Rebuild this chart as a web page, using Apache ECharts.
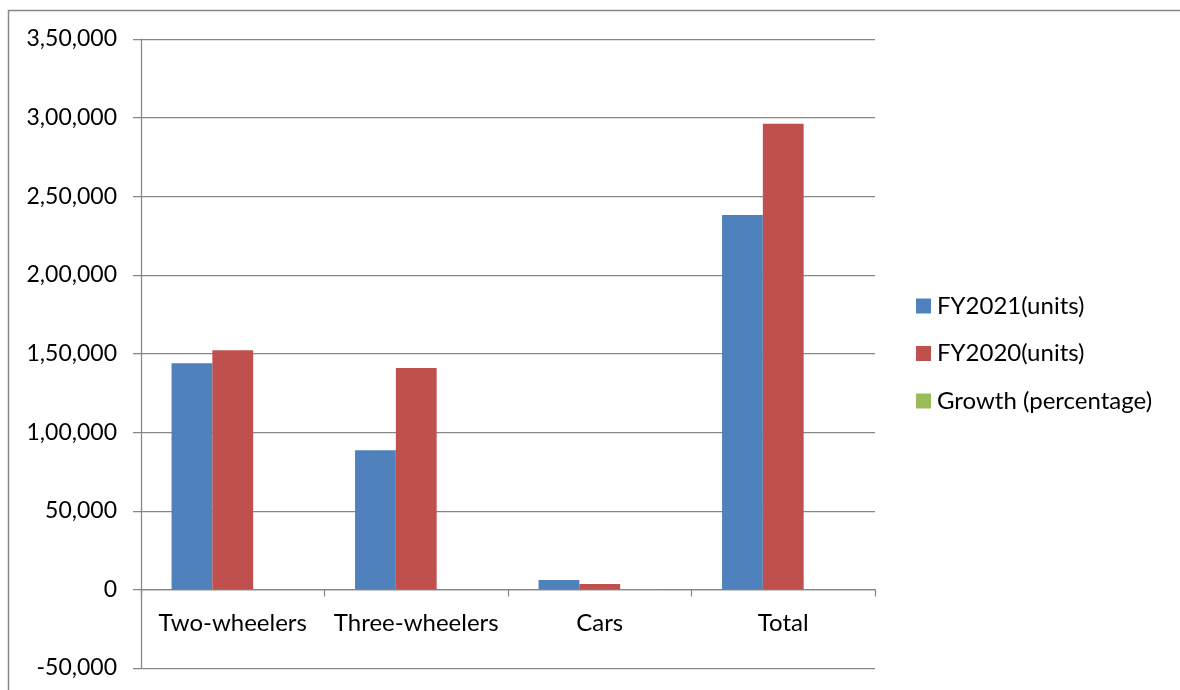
<!DOCTYPE html>
<html>
<head>
<meta charset="utf-8">
<script src="https://cdn.jsdelivr.net/npm/echarts@6/dist/echarts.min.js"></script>
<style>
  html, body { margin: 0; padding: 0; background: #ffffff; }
  #myChart { width: 1180px; height: 690px; }
</style>
</head>
<body>
<div id="myChart"></div>
<script>
    // data
    var categories = ['Two-wheelers', 'Three-wheelers', 'Cars', 'Total'];
    var fy2021 = [143800, 88400, 5900, 238100];
    var fy2020 = [152000, 140700, 3400, 296100];
    var growth = [-5.4, -37.2, 73.7, -19.6];
    var yTicks = { min: -50000, max: 350000, step: 50000 };

    // indian style grouping: 3,50,000
    function inFormat(v) {
        var neg = v < 0;
        var s = String(Math.abs(Math.round(v)));
        if (s.length > 3) {
            var last3 = s.slice(-3);
            var rest = s.slice(0, -3);
            rest = rest.replace(/\B(?=(\d{2})+(?!\d))/g, ',');
            s = rest + ',' + last3;
        }
        return (neg ? '-' : '') + s;
    }

    var font = 'Lato';
    var grey = '#868686';

    var myChart = echarts.init(document.getElementById('myChart'));
    var option = {
        backgroundColor: '#ffffff',
        animation: false,
        textStyle: { fontFamily: font },
        graphic: [{
            type: 'rect',
            shape: { x: 8.5, y: 10.5, width: 1300, height: 800 },
            style: { fill: 'none', stroke: grey, lineWidth: 1.5 },
            silent: true
        }],
        grid: {
            left: 141,
            right: 305,
            top: 39,
            bottom: 22,
            outerBoundsMode: 'none'
        },
        legend: {
            orient: 'vertical',
            left: 911,
            top: 289,
            itemWidth: 15,
            itemHeight: 15,
            itemGap: 23.5,
            icon: 'rect',
            data: ['FY2021(units)', 'FY2020(units)', 'Growth (percentage)'],
            textStyle: {
                color: '#000000',
                fontFamily: font,
                fontSize: 24,
                lineHeight: 20,
                padding: [0, 0, 0, 1]
            }
        },
        xAxis: {
            type: 'category',
            data: categories,
            axisLine: {
                onZero: true,
                lineStyle: { color: grey, width: 1.25 }
            },
            axisTick: {
                show: true,
                length: 7,
                lineStyle: { color: grey, width: 1.25 }
            },
            axisLabel: {
                interval: 0,
                color: '#000000',
                fontFamily: font,
                fontSize: 24,
                // labels sit under the zero line, not at the grid bottom
                margin: -57
            },
            splitLine: { show: false }
        },
        yAxis: {
            type: 'value',
            min: yTicks.min,
            max: yTicks.max,
            interval: yTicks.step,
            axisLine: {
                show: true,
                lineStyle: { color: grey, width: 1.25 }
            },
            axisTick: {
                show: true,
                length: 8,
                lineStyle: { color: grey, width: 1.25 }
            },
            axisLabel: {
                color: '#000000',
                fontFamily: font,
                fontSize: 23,
                margin: 24,
                formatter: inFormat
            },
            splitLine: {
                show: true,
                lineStyle: { color: grey, width: 1.25 }
            }
        },
        series: [
            {
                type: 'bar',
                name: 'FY2021(units)',
                data: fy2021,
                barGap: '0%',
                barCategoryGap: '33.3%',
                itemStyle: { color: '#4F81BD' }
            },
            {
                type: 'bar',
                name: 'FY2020(units)',
                data: fy2020,
                itemStyle: { color: '#C0504D' }
            },
            {
                type: 'bar',
                name: 'Growth (percentage)',
                data: growth,
                itemStyle: { color: '#9BBB59' }
            }
        ]
    };
    myChart.setOption(option);
</script>
</body>
</html>
